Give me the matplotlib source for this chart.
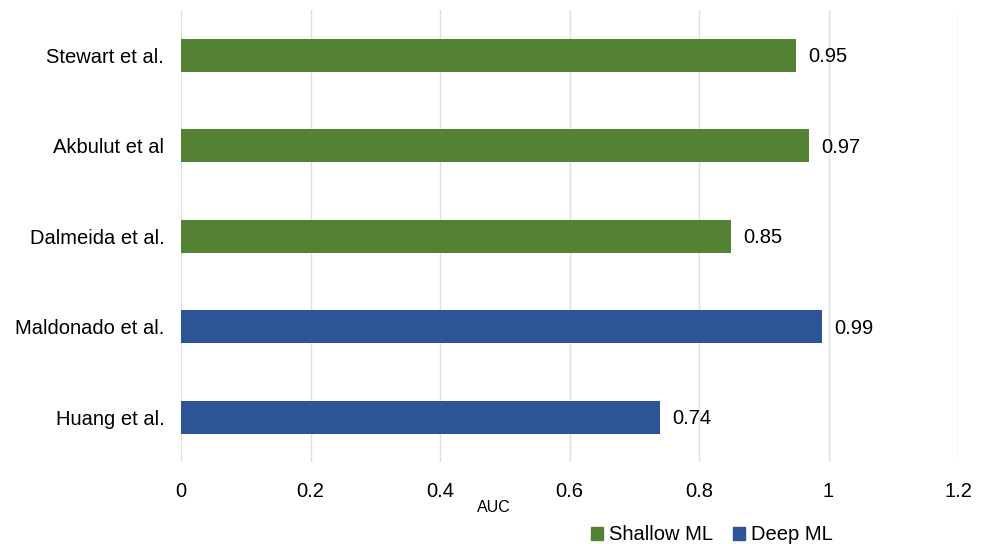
import matplotlib.pyplot as plt

plt.rcParams['font.family'] = ['Liberation Sans', 'DejaVu Sans']

# AUC reported per study, top to bottom
studies = ["Stewart et al.", "Akbulut et al", "Dalmeida et al.", "Maldonado et al.", "Huang et al."]
auc = [0.95, 0.97, 0.85, 0.99, 0.74]
groups = ["Shallow ML", "Shallow ML", "Shallow ML", "Deep ML", "Deep ML"]
x_ticks = [0, 0.2, 0.4, 0.6, 0.8, 1, 1.2]
x_tick_labels = ["0", "0.2", "0.4", "0.6", "0.8", "1", "1.2"]

colors = {"Shallow ML": "#548235", "Deep ML": "#2B5597"}

fig = plt.figure(figsize=(9.86, 5.44), dpi=100)
ax = fig.add_axes([0.1836, 0.150, 0.7880, 0.832])

ypos = list(range(len(studies)))[::-1]
for y, val, g in zip(ypos, auc, groups):
    ax.barh(y, val, height=0.365, color=colors[g], zorder=3)
    ax.text(val + 0.019, y - 0.02, f"{val:.2f}", va="center", ha="left", fontsize=14.5)

ax.set_yticks(ypos)
ax.set_yticklabels(studies, fontsize=14.5)
ax.set_xticks(x_ticks)
ax.set_xticklabels(x_tick_labels, fontsize=14.5)
ax.set_xlim(0, 1.2)
ax.set_ylim(-0.5, 4.5)

ax.grid(axis="x", color="#E0E0E0", linewidth=1.0, zorder=0)
ax.tick_params(length=0, pad=14)
ax.tick_params(axis="y", pad=12)
for s in ax.spines.values():
    s.set_visible(False)

fig.text(494 / 986, 1 - 507 / 544, "AUC", ha="center", va="center", fontsize=11.5)

handles = [plt.Rectangle((0, 0), 1, 1, color=colors[k]) for k in ["Shallow ML", "Deep ML"]]
fig.legend(handles, ["Shallow ML", "Deep ML"], loc="center", bbox_to_anchor=(712 / 986, 1 - 535 / 544),
           ncol=2, frameon=False, fontsize=14.5, handlelength=0.6, handleheight=0.6,
           handletextpad=0.3, columnspacing=1.0, borderpad=0)

fig.savefig("out.png", dpi=100)
